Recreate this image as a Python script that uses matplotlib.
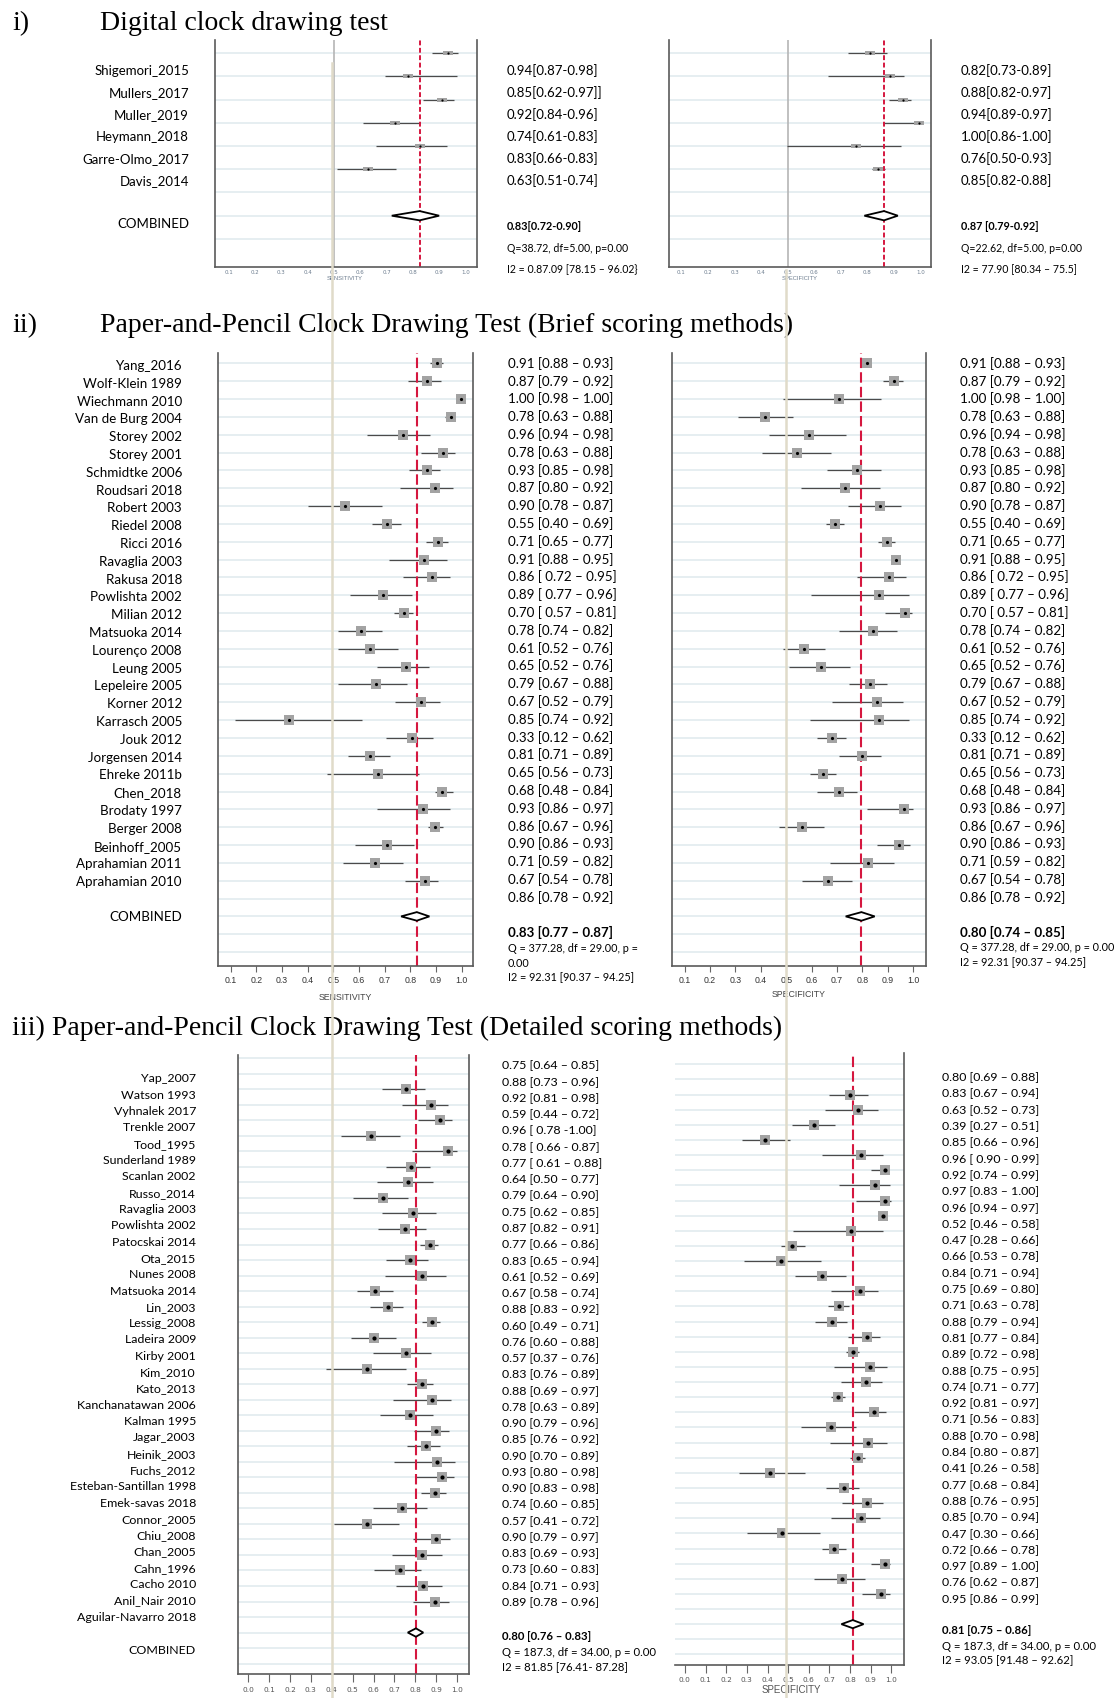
import numpy as np
import matplotlib
matplotlib.use("Agg")
import matplotlib.pyplot as plt
from matplotlib.lines import Line2D

# ---------------- data ----------------
# i) digital clock drawing test
a_names = ["Shigemori_2015", "Mullers_2017", "Muller_2019", "Heymann_2018",
           "Garre-Olmo_2017", "Davis_2014"]
a_sens_est = [0.935, 0.78, 0.912, 0.731, 0.826, 0.63]
a_sens_lo = [0.874, 0.695, 0.84, 0.612, 0.661, 0.51]
a_sens_hi = [0.973, 0.969, 0.958, 0.829, 0.931, 0.735]
a_sens_comb = [0.72, 0.826, 0.90]
a_spec_est = [0.812, 0.886, 0.933, 0.993, 0.758, 0.842]
a_spec_lo = [0.729, 0.653, 0.882, 0.859, 0.496, 0.818]
a_spec_hi = [0.876, 0.939, 0.966, 1.01, 0.926, 0.868]
a_spec_comb = [0.789, 0.863, 0.915]
a_sens_txt = ["0.94[0.87-0.98]", "0.85[0.62-0.97]]", "0.92[0.84-0.96]",
              "0.74[0.61-0.83]", "0.83[0.66-0.83]", "0.63[0.51-0.74]"]
a_spec_txt = ["0.82[0.73-0.89]", "0.88[0.82-0.97]", "0.94[0.89-0.97]",
              "1.00[0.86-1.00]", "0.76[0.50-0.93]", "0.85[0.82-0.88]"]
a_sens_stats = ["0.83[0.72-0.90]", "Q=38.72, df=5.00, p=0.00",
                "I2 = 0.87.09 [78.15 \u2013 96.02}"]
a_spec_stats = ["0.87 [0.79-0.92]", "Q=22.62, df=5.00, p=0.00",
                "I2 = 77.90 [80.34 \u2013 75.5]"]

# ii) paper-and-pencil, brief scoring
b_names = ["Yang_2016", "Wolf-Klein 1989", "Wiechmann 2010", "Van de Burg 2004",
           "Storey 2002", "Storey 2001", "Schmidtke 2006", "Roudsari 2018",
           "Robert 2003", "Riedel 2008", "Ricci 2016", "Ravaglia 2003",
           "Rakusa 2018", "Powlishta 2002", "Milian 2012", "Matsuoka 2014",
           "Lourenço 2008", "Leung 2005", "Lepeleire 2005", "Korner 2012",
           "Karrasch 2005", "Jouk 2012", "Jorgensen 2014", "Ehreke 2011b",
           "Chen_2018", "Brodaty 1997", "Berger 2008", "Beinhoff_2005",
           "Aprahamian 2011", "Aprahamian 2010"]
b_sens_est = [0.905, 0.864, 0.997, 0.957, 0.773, 0.926, 0.865, 0.896, 0.547, 0.710,
              0.906, 0.855, 0.886, 0.695, 0.775, 0.608, 0.643, 0.783, 0.665, 0.843,
              0.329, 0.806, 0.643, 0.675, 0.923, 0.851, 0.896, 0.708, 0.664, 0.856]
b_sens_lo = [0.877, 0.791, 0.985, 0.935, 0.630, 0.842, 0.796, 0.760, 0.400, 0.649,
             0.860, 0.717, 0.770, 0.565, 0.736, 0.518, 0.518, 0.669, 0.518, 0.740,
             0.117, 0.706, 0.557, 0.474, 0.897, 0.671, 0.868, 0.584, 0.539, 0.779]
b_sens_hi = [0.929, 0.918, 1.0, 0.974, 0.877, 0.974, 0.916, 0.968, 0.690, 0.762,
             0.945, 0.942, 0.955, 0.808, 0.812, 0.690, 0.753, 0.874, 0.788, 0.916,
             0.613, 0.887, 0.721, 0.835, 0.965, 0.955, 0.926, 0.813, 0.773, 0.909]
b_sens_comb = [0.764, 0.825, 0.874]
b_spec_est = [0.817, 0.926, 0.707, 0.416, 0.589, 0.543, 0.779, 0.732, 0.869, 0.690,
              0.898, 0.930, 0.903, 0.864, 0.966, 0.843, 0.571, 0.636, 0.830, 0.859,
              0.865, 0.681, 0.799, 0.645, 0.707, 0.964, 0.561, 0.945, 0.823, 0.665]
b_spec_lo = [0.801, 0.880, 0.489, 0.311, 0.432, 0.403, 0.660, 0.557, 0.744, 0.657,
             0.863, 0.915, 0.779, 0.597, 0.890, 0.706, 0.488, 0.510, 0.746, 0.682,
             0.595, 0.622, 0.706, 0.595, 0.622, 0.817, 0.471, 0.858, 0.673, 0.564]
b_spec_hi = [0.833, 0.961, 0.872, 0.526, 0.734, 0.677, 0.872, 0.869, 0.951, 0.728,
             0.927, 0.943, 0.972, 0.982, 0.995, 0.935, 0.654, 0.751, 0.898, 0.960,
             0.982, 0.734, 0.873, 0.695, 0.780, 0.998, 0.649, 0.987, 0.926, 0.758]
b_spec_comb = [0.734, 0.796, 0.848]
b_txt = ["0.91 [0.88 \u2013 0.93]", "0.87 [0.79 \u2013 0.92]", "1.00 [0.98 \u2013 1.00]",
         "0.78 [0.63 \u2013 0.88]", "0.96 [0.94 \u2013 0.98]", "0.78 [0.63 \u2013 0.88]",
         "0.93 [0.85 \u2013 0.98]", "0.87 [0.80 \u2013 0.92]", "0.90 [0.78 \u2013 0.87]",
         "0.55 [0.40 \u2013 0.69]", "0.71 [0.65 \u2013 0.77]", "0.91 [0.88 \u2013 0.95]",
         "0.86 [ 0.72 \u2013 0.95]", "0.89 [ 0.77 \u2013 0.96]", "0.70 [ 0.57 \u2013 0.81]",
         "0.78 [0.74 \u2013 0.82]", "0.61 [0.52 \u2013 0.76]", "0.65 [0.52 \u2013 0.76]",
         "0.79 [0.67 \u2013 0.88]", "0.67 [0.52 \u2013 0.79]", "0.85 [0.74 \u2013 0.92]",
         "0.33 [0.12 \u2013 0.62]", "0.81 [0.71 \u2013 0.89]", "0.65 [0.56 \u2013 0.73]",
         "0.68 [0.48 \u2013 0.84]", "0.93 [0.86 \u2013 0.97]", "0.86 [0.67 \u2013 0.96]",
         "0.90 [0.86 \u2013 0.93]", "0.71 [0.59 \u2013 0.82]", "0.67 [0.54 \u2013 0.78]",
         "0.86 [0.78 \u2013 0.92]"]
b_sens_stats = ["0.83 [0.77 \u2013 0.87]", "Q = 377.28, df = 29.00, p =", "0.00",
                "I2 = 92.31 [90.37 \u2013 94.25]"]
b_spec_stats = ["0.80 [0.74 \u2013 0.85]", "Q = 377.28, df = 29.00, p = 0.00",
                "I2 = 92.31 [90.37 \u2013 94.25]"]

# iii) paper-and-pencil, detailed scoring
c_names = ["Yap_2007", "Watson 1993", "Vyhnalek 2017", "Trenkle 2007", "Tood_1995",
           "Sunderland 1989", "Scanlan 2002", "Russo_2014", "Ravaglia 2003",
           "Powlishta 2002", "Patocskai 2014", "Ota_2015", "Nunes 2008",
           "Matsuoka 2014", "Lin_2003", "Lessig_2008", "Ladeira 2009", "Kirby 2001",
           "Kim_2010", "Kato_2013", "Kanchanatawan 2006", "Kalman 1995", "Jagar_2003",
           "Heinik_2003", "Fuchs_2012", "Esteban-Santillan 1998", "Emek-savas 2018",
           "Connor_2005", "Chiu_2008", "Chan_2005", "Cahn_1996", "Cacho 2010",
           "Anil_Nair 2010", "Aguilar-Navarro 2018"]
c_sens_est = [0.756, 0.877, 0.920, 0.590, 0.957, 0.778, 0.766, 0.643, 0.788, 0.749,
              0.870, 0.773, 0.831, 0.609, 0.667, 0.880, 0.602, 0.754, 0.569, 0.831,
              0.880, 0.776, 0.897, 0.851, 0.903, 0.928, 0.896, 0.738, 0.569, 0.899,
              0.831, 0.725, 0.839, 0.892]
c_sens_lo = [0.641, 0.735, 0.812, 0.444, 0.783, 0.662, 0.615, 0.504, 0.641, 0.621,
             0.822, 0.658, 0.653, 0.521, 0.583, 0.832, 0.491, 0.598, 0.371, 0.761,
             0.691, 0.631, 0.795, 0.762, 0.696, 0.798, 0.829, 0.598, 0.410, 0.790,
             0.687, 0.603, 0.709, 0.790]
c_sens_hi = [0.846, 0.957, 0.978, 0.726, 1.0, 0.868, 0.884, 0.764, 0.897, 0.851,
             0.908, 0.863, 0.945, 0.692, 0.740, 0.918, 0.709, 0.875, 0.754, 0.885,
             0.973, 0.885, 0.961, 0.918, 0.988, 0.983, 0.947, 0.856, 0.721, 0.966,
             0.928, 0.829, 0.926, 0.961]
c_sens_comb = [0.764, 0.803, 0.838]
c_spec_est = [0.801, 0.836, 0.626, 0.386, 0.853, 0.967, 0.919, 0.971, 0.960, 0.803,
              0.521, 0.467, 0.664, 0.846, 0.747, 0.713, 0.881, 0.813, 0.896, 0.879,
              0.742, 0.917, 0.706, 0.886, 0.836, 0.412, 0.770, 0.881, 0.851, 0.471,
              0.723, 0.971, 0.761, 0.948]
c_spec_lo = [0.696, 0.678, 0.519, 0.277, 0.666, 0.903, 0.744, 0.830, 0.943, 0.524,
             0.464, 0.287, 0.531, 0.706, 0.692, 0.628, 0.792, 0.779, 0.720, 0.754,
             0.709, 0.818, 0.564, 0.702, 0.799, 0.260, 0.682, 0.761, 0.706, 0.301,
             0.663, 0.900, 0.623, 0.858]
c_spec_hi = [0.886, 0.934, 0.727, 0.510, 0.960, 0.990, 0.995, 0.998, 0.978, 0.957,
             0.580, 0.657, 0.779, 0.934, 0.796, 0.787, 0.943, 0.844, 0.978, 0.955,
             0.775, 0.974, 0.827, 0.978, 0.874, 0.581, 0.844, 0.957, 0.946, 0.654,
             0.779, 0.995, 0.874, 0.995]
c_spec_comb = [0.758, 0.813, 0.865]
c_sens_txt = ["0.75 [0.64 \u2013 0.85]", "0.88 [0.73 \u2013 0.96]", "0.92 [0.81 \u2013 0.98]",
              "0.59 [0.44 \u2013 0.72]", "0.96 [ 0.78 -1.00]", "0.78 [ 0.66 - 0.87]",
              "0.77 [ 0.61 \u2013 0.88]", "0.64 [0.50 \u2013 0.77]", "0.79 [0.64 \u2013 0.90]",
              "0.75 [0.62 \u2013 0.85]", "0.87 [0.82 \u2013 0.91]", "0.77 [0.66 \u2013 0.86]",
              "0.83 [0.65 \u2013 0.94]", "0.61 [0.52 \u2013 0.69]", "0.67 [0.58 \u2013 0.74]",
              "0.88 [0.83 \u2013 0.92]", "0.60 [0.49 \u2013 0.71]", "0.76 [0.60 \u2013 0.88]",
              "0.57 [0.37 \u2013 0.76]", "0.83 [0.76 \u2013 0.89]", "0.88 [0.69 \u2013 0.97]",
              "0.78 [0.63 \u2013 0.89]", "0.90 [0.79 \u2013 0.96]", "0.85 [0.76 \u2013 0.92]",
              "0.90 [0.70 \u2013 0.89]", "0.93 [0.80 \u2013 0.98]", "0.90 [0.83 \u2013 0.98]",
              "0.74 [0.60 \u2013 0.85]", "0.57 [0.41 \u2013 0.72]", "0.90 [0.79 \u2013 0.97]",
              "0.83 [0.69 \u2013 0.93]", "0.73 [0.60 \u2013 0.83]", "0.84 [0.71 \u2013 0.93]",
              "0.89 [0.78 \u2013 0.96]"]
c_spec_txt = ["0.80 [0.69 \u2013 0.88]", "0.83 [0.67 \u2013 0.94]", "0.63 [0.52 \u2013 0.73]",
              "0.39 [0.27 \u2013 0.51]", "0.85 [0.66 \u2013 0.96]", "0.96 [ 0.90 - 0.99]",
              "0.92 [0.74 \u2013 0.99]", "0.97 [0.83 \u2013 1.00]", "0.96 [0.94 \u2013 0.97]",
              "0.52 [0.46 \u2013 0.58]", "0.47 [0.28 \u2013 0.66]", "0.66 [0.53 \u2013 0.78]",
              "0.84 [0.71 \u2013 0.94]", "0.75 [0.69 \u2013 0.80]", "0.71 [0.63 \u2013 0.78]",
              "0.88 [0.79 \u2013 0.94]", "0.81 [0.77 \u2013 0.84]", "0.89 [0.72 \u2013 0.98]",
              "0.88 [0.75 \u2013 0.95]", "0.74 [0.71 \u2013 0.77]", "0.92 [0.81 \u2013 0.97]",
              "0.71 [0.56 \u2013 0.83]", "0.88 [0.70 \u2013 0.98]", "0.84 [0.80 \u2013 0.87]",
              "0.41 [0.26 \u2013 0.58]", "0.77 [0.68 \u2013 0.84]", "0.88 [0.76 \u2013 0.95]",
              "0.85 [0.70 \u2013 0.94]", "0.47 [0.30 \u2013 0.66]", "0.72 [0.66 \u2013 0.78]",
              "0.97 [0.89 \u2013 1.00]", "0.76 [0.62 \u2013 0.87]", "0.95 [0.86 \u2013 0.99]"]
c_sens_stats = ["0.80 [0.76 \u2013 0.83]", "Q = 187.3, df = 34.00, p = 0.00",
                "I2 = 81.85 [76.41- 87.28]"]
c_spec_stats = ["0.81 [0.75 \u2013 0.86]", "Q = 187.3, df = 34.00, p = 0.00",
                "I2 = 93.05 [91.48 \u2013 92.62]"]

# ---------------- layout ----------------
W, H = 1119, 1698
fig = plt.figure(figsize=(W / 100, H / 100), dpi=100)
SANS = "Lato"
SERIF = "Liberation Serif"
GRID = "#e6eef1"
RED = "#d5173f"
SQ = "#a3a3a3"


def px_axes(l, t, r, b):
    return fig.add_axes([l / W, 1 - b / H, (r - l) / W, (b - t) / H])


def ftext(x, y, s, **kw):
    kw.setdefault("family", SANS)
    kw.setdefault("va", "center")
    fig.text(x / W, 1 - y / H, s, **kw)


def forest(ax, est, lo, hi, comb, first, comb_row, n_grid, xlim, ylim, ticks,
           marker="s", ms=7, dot=2.4, dh=0.22, dash=(5, 2), red_lw=1.5,
           spines=("left", "right", "bottom")):
    for r in range(n_grid):
        ax.axhline(r, color=GRID, lw=1.4, zorder=0)
    rows = first + np.arange(len(est))
    ax.hlines(rows, lo, hi, color="#4a4a4a", lw=0.9, zorder=1)
    ax.axvline(comb[1], color=RED, lw=red_lw, ls=(0, dash), zorder=2)
    ax.plot(est, rows, ls="none", marker=marker, ms=ms, color=SQ, mew=0, zorder=3)
    ax.plot(est, rows, ls="none", marker="o", ms=dot, color="black", mew=0, zorder=4)
    ax.fill([comb[0], comb[1], comb[2], comb[1]],
            [comb_row, comb_row - dh, comb_row, comb_row + dh],
            fc="white", ec="black", lw=1.3, zorder=5)
    ax.set_xlim(xlim)
    ax.set_ylim(ylim)
    ax.set_yticks([])
    ax.set_xticks(ticks)
    ax.set_xticklabels(["%.1f" % t for t in ticks])
    for s in ["left", "right", "bottom", "top"]:
        ax.spines[s].set_visible(s in spines)
        ax.spines[s].set_color("#5a5a5a")
        ax.spines[s].set_linewidth(1.2)
    ax.patch.set_alpha(0)


rect = [(-1, -0.42), (1, -0.42), (1, 0.42), (-1, 0.42), (-1, -0.42)]
t1 = np.round(np.arange(0.1, 1.01, 0.1), 1)
t0 = np.round(np.arange(0.0, 1.01, 0.1), 1)

# ---- panel i ----
ftext(12, 30, "i)", family=SERIF, fontsize=20, va="baseline")
ftext(100, 30, "Digital clock drawing test", family=SERIF, fontsize=20, va="baseline")
for (l, r, xl, est, lo, hi, comb) in [
        (215, 477, (0.048, 1.044), a_sens_est, a_sens_lo, a_sens_hi, a_sens_comb),
        (669, 931, (0.053, 1.04), a_spec_est, a_spec_lo, a_spec_hi, a_spec_comb)]:
    ax = px_axes(l, 40, r, 267)
    ax.axvline(0.5, color="#b5b5b5", lw=1.2, zorder=0.5)
    forest(ax, est, lo, hi, comb, 0, 7, 9, xl, (9.21, -0.57), t1,
           marker=rect, ms=7.5, dot=1.6, dh=0.2, dash=(2.5, 1.3), red_lw=1.4)
    ax.tick_params(axis="x", length=0, pad=2.5, labelsize=4, labelcolor="#6d7d8f")
ftext(345, 278, "SENSITIVITY", fontsize=4.2, color="#6d7d8f", ha="center",
      family="Liberation Sans")
ftext(800, 278, "SPECIFICITY", fontsize=4.2, color="#6d7d8f", ha="center",
      family="Liberation Sans")
for k, name in enumerate(a_names):
    ftext(189, 71 + 22 * k, name, fontsize=9.5, ha="right")
    ftext(507, 71 + 22 * k, a_sens_txt[k], fontsize=9.5)
    ftext(961, 71 + 22 * k, a_spec_txt[k], fontsize=9.5)
ftext(189, 224, "COMBINED", fontsize=9.5, ha="right")
for x0, stats in [(507, a_sens_stats), (961, a_spec_stats)]:
    ftext(x0, 226.5, stats[0], fontsize=7.8, weight="bold")
    ftext(x0, 248, stats[1], fontsize=7.6)
    ftext(x0, 269.5, stats[2], fontsize=7.6)

# ---- panel ii ----
ftext(12, 332, "ii)", family=SERIF, fontsize=20, va="baseline")
ftext(100, 332, "Paper-and-Pencil Clock Drawing Test (Brief scoring methods)",
      family=SERIF, fontsize=20, va="baseline")
for (l, r, xl, est, lo, hi, comb) in [
        (218, 473, (0.0505, 1.044), b_sens_est, b_sens_lo, b_sens_hi, b_sens_comb),
        (672, 926, (0.0505, 1.05), b_spec_est, b_spec_lo, b_spec_hi, b_spec_comb)]:
    ax = px_axes(l, 353, r, 966)
    forest(ax, est, lo, hi, comb, 0, 31, 34, xl, (33.78, -0.58), t1,
           ms=7, dot=2.3, dh=0.24)
    ax.tick_params(axis="x", length=4, width=0.8, color="#666666", pad=3,
                   labelsize=6.3, labelcolor="#333333")
    for lab in ax.get_xticklabels():
        lab.set_family("Liberation Sans")
ftext(345, 998, "SENSITIVITY", fontsize=6.3, color="#444444", ha="center",
      family="Liberation Sans")
ftext(799, 995, "SPECIFICITY", fontsize=6.3, color="#444444", ha="center",
      family="Liberation Sans")
for k, name in enumerate(b_names):
    ftext(182, 366 + 17.8 * k, name, fontsize=9.6, ha="right")
for k, s in enumerate(b_txt):
    ftext(508, 363.3 + 17.8 * k, s, fontsize=9.6)
    ftext(960, 363.3 + 17.8 * k, s, fontsize=9.6)
ftext(182, 917, "COMBINED", fontsize=9.6, ha="right")
ftext(508, 932, b_sens_stats[0], fontsize=9.6, weight="bold")
ftext(508, 949, b_sens_stats[1], fontsize=7.8)
ftext(508, 963.5, b_sens_stats[2], fontsize=7.8)
ftext(508, 978, b_sens_stats[3], fontsize=7.8)
ftext(960, 932, b_spec_stats[0], fontsize=9.6, weight="bold")
ftext(960, 947.5, b_spec_stats[1], fontsize=7.8)
ftext(960, 963, b_spec_stats[2], fontsize=7.8)

# ---- panel iii ----
ftext(12, 1035, "iii) Paper-and-Pencil Clock Drawing Test (Detailed scoring methods)",
      family=SERIF, fontsize=20, va="baseline")
ax = px_axes(237.5, 1055, 469, 1674)
forest(ax, c_sens_est, c_sens_lo, c_sens_hi, c_sens_comb, 2, 37, 40,
       (-0.051, 1.057), (39.67, -0.21), t0, ms=7.5, dot=3.0, dh=0.27)
ax.tick_params(axis="x", length=6, width=0.8, color="#666666", pad=3,
               labelsize=5.3, labelcolor="#555555")
ax = px_axes(675, 1053, 904, 1665)
forest(ax, c_spec_est, c_spec_lo, c_spec_hi, c_spec_comb, 2, 37, 40,
       (-0.048, 1.061), (39.7, -0.75), t0, ms=7.5, dot=3.0, dh=0.27,
       spines=("right", "bottom"))
ax.tick_params(axis="x", length=6, width=0.8, color="#666666", pad=3,
               labelsize=5.3, labelcolor="#555555")
ftext(791, 1690, "SPECIFICITY", fontsize=7, color="#555555", ha="center",
      family="Liberation Sans")
for k, name in enumerate(c_names):
    ftext(196, 1079 + 16.31 * k, name, fontsize=8.9, ha="right")
for k, s in enumerate(c_sens_txt):
    ftext(502, 1066 + 16.26 * k, s, fontsize=8.9)
for k, s in enumerate(c_spec_txt):
    ftext(942, 1077.7 + 16.3 * k, s, fontsize=8.9)
ftext(196, 1650, "COMBINED", fontsize=8.9, ha="right")
ftext(502, 1636, c_sens_stats[0], fontsize=8.2, weight="bold")
ftext(502, 1652, c_sens_stats[1], fontsize=8.2)
ftext(502, 1668, c_sens_stats[2], fontsize=8.2)
ftext(942, 1631, c_spec_stats[0], fontsize=8.2, weight="bold")
ftext(942, 1646, c_spec_stats[1], fontsize=8.2)
ftext(942, 1661, c_spec_stats[2], fontsize=8.2)

# beige guide lines running down both columns
fig.add_artist(Line2D([332 / W, 332 / W], [1 - 63 / H, 0], color="#e0dbc9", lw=1.8,
                      zorder=10))
fig.add_artist(Line2D([786 / W, 786 / W], [1 - 270 / H, 0], color="#e0dbc9", lw=1.8,
                      zorder=10))

fig.savefig("out.png", dpi=100, facecolor="white")
